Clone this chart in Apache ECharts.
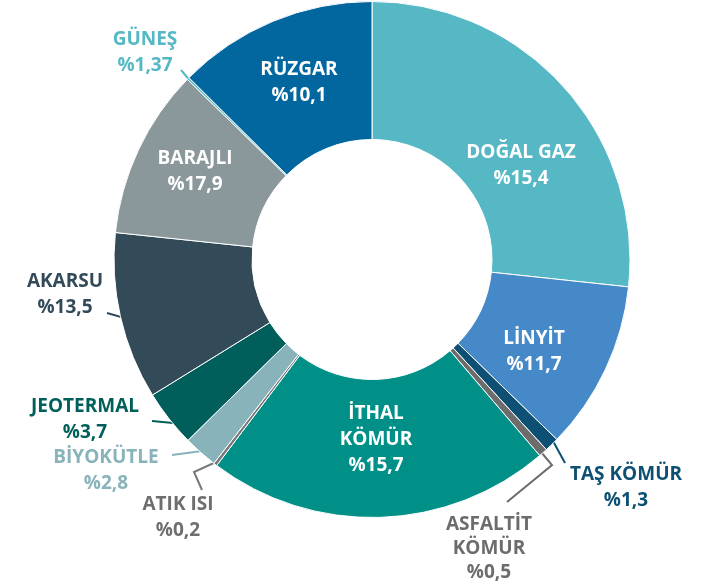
<!DOCTYPE html>
<html>
<head>
<meta charset="utf-8">
<title>Kurulu güç dağılımı</title>
<script src="https://cdn.jsdelivr.net/npm/echarts@6/dist/echarts.min.js"></script>
<style>
  html, body { margin: 0; padding: 0; background: #fff; }
  #main { width: 711px; height: 588px; }
</style>
</head>
<body>
<div id="main"></div>
<script>
// kaynaklar, etikette yazan yüzdeler ve halkada çizilen dilim payları
var kaynaklar = ['DOĞAL GAZ', 'LİNYİT', 'TAŞ KÖMÜR', 'ASFALTİT\nKÖMÜR', 'İTHAL\nKÖMÜR', 'ATIK ISI',
                 'BİYOKÜTLE', 'JEOTERMAL', 'AKARSU', 'BARAJLI', 'GÜNEŞ', 'RÜZGAR'];
var etiketYuzde = [15.4, 11.7, 1.3, 0.5, 15.7, 0.2, 2.8, 3.7, 13.5, 17.9, 1.37, 10.1];
var dilimPayi = [26.7, 10.6, 0.9, 0.55, 21.55, 0.22, 2.14, 3.56, 10.47, 10.64, 0.14, 12.56];
var renkler = ['#56b8c5', '#4689c8', '#0d5073', '#6c6c6c', '#009088', '#77797b',
               '#88b3ba', '#015f5b', '#334a58', '#8a979b', '#56b8c5', '#02669f'];
var disEtiket = [false, false, true, true, false, true, true, true, true, false, true, false];
var etiketRenk = ['#fff', '#fff', '#0d5073', '#6c6c6c', '#fff', '#6d6e70',
                  '#88b3ba', '#015f5b', '#334a58', '#fff', '#56b8c5', '#fff'];

// etiketlerin yerleri (elle)
var etiketYeri = [
    {x: 521, y: 166},
    {x: 534, y: 352},
    {x: 626, y: 488, line: [[553, 441], [565, 463]]},
    {x: 489, y: 549, lh: 24, line: [[541, 452], [552, 465], [507, 502]]},
    {x: 376, y: 440},
    {x: 178, y: 518, line: [[216, 462], [194, 472], [202, 490]]},
    {x: 106, y: 471, line: [[202, 451], [172, 455]]},
    {x: 85, y: 420, line: [[173, 423], [152, 421]]},
    {x: 65, y: 295, line: [[121, 317], [107, 313]]},
    {x: 195, y: 172},
    {x: 145, y: 53, line: [[197, 89], [181, 70]]},
    {x: 299, y: 83}
];

var myChart = echarts.init(document.getElementById('main'));

var veri = [];
for (var i = 0; i < kaynaklar.length; i++) {
    veri.push({
        name: kaynaklar[i],
        value: dilimPayi[i],
        itemStyle: { color: renkler[i] },
        label: {
            position: disEtiket[i] ? 'outside' : 'inside',
            color: etiketRenk[i],
            lineHeight: etiketYeri[i].lh || 26,
            formatter: kaynaklar[i] + '\n%' + String(etiketYuzde[i]).replace('.', ',')
        },
        labelLine: {
            show: disEtiket[i],
            lineStyle: { color: renkler[i], width: 2 }
        }
    });
}

myChart.setOption({
    animation: false,
    series: [{
        type: 'pie',
        center: [372, 259.5],
        radius: [120, 258],
        startAngle: 90,
        clockwise: true,
        avoidLabelOverlap: false,
        itemStyle: { borderColor: '#fff', borderWidth: 1 },
        label: {
            fontFamily: 'Open Sans',
            fontWeight: 'bold',
            fontSize: 19
        },
        emphasis: { disabled: true },
        labelLayout: function (p) {
            var s = etiketYeri[p.dataIndex];
            var o = { x: s.x, y: s.y, align: 'center', verticalAlign: 'middle' };
            if (s.line) o.labelLinePoints = s.line;
            return o;
        },
        data: veri
    }]
});
</script>
</body>
</html>
